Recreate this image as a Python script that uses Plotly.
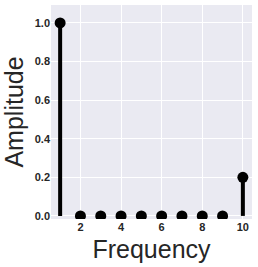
import plotly.graph_objects as go

frequency = [1, 2, 3, 4, 5, 6, 7, 8, 9, 10]
amplitude = [1.0, 0, 0, 0, 0, 0, 0, 0, 0, 0.2]
x_ticks = [2, 4, 6, 8, 10]
y_ticks = [0.0, 0.2, 0.4, 0.6, 0.8, 1.0]

stem_x, stem_y = [], []
for f, a in zip(frequency, amplitude):
    stem_x += [f, f, None]
    stem_y += [0, a, None]

fig = go.Figure()
fig.add_trace(go.Scatter(x=stem_x, y=stem_y, mode="lines",
                         line=dict(color="black", width=4), hoverinfo="skip"))
fig.add_trace(go.Scatter(x=frequency, y=amplitude, mode="markers",
                         marker=dict(color="black", size=11)))

fig.update_layout(
    width=258, height=267,
    margin=dict(l=51, r=6, t=5, b=48),
    paper_bgcolor="white", plot_bgcolor="#EAEAF2",
    showlegend=False,
    font=dict(family="Liberation Sans, Arial, sans-serif", color="#262626"),
)
fig.update_xaxes(
    range=[0.55, 10.45], tickvals=x_ticks,
    ticktext=[f"<b>{t}</b>" for t in x_ticks],
    tickfont=dict(size=11), gridcolor="white", gridwidth=1,
    showline=False, zeroline=False, ticks="",
    title=dict(text="Frequency", font=dict(size=25), standoff=8),
)
fig.update_yaxes(
    range=[-0.016, 1.093], tickvals=y_ticks,
    ticktext=[f"<b>{t:.1f}</b>" for t in y_ticks],
    tickfont=dict(size=11), gridcolor="white", gridwidth=1,
    showline=False, zeroline=False, ticks="",
    title=dict(text="Amplitude", font=dict(size=25), standoff=4),
)
fig.write_html("out.html", config={"displayModeBar": False})

with open("out.html", "r", encoding="utf-8") as fh:
    html = fh.read()
html = html.replace("<body>", '<body style="margin:0;padding:0;overflow:hidden">', 1)
with open("out.html", "w", encoding="utf-8") as fh:
    fh.write(html)
